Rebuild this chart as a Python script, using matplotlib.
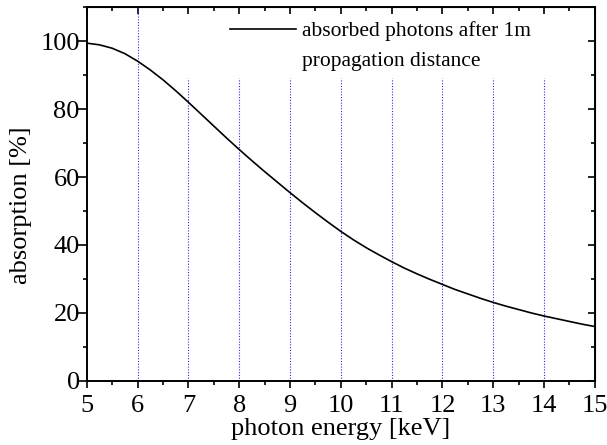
import numpy as np
import matplotlib
matplotlib.use("Agg")
import matplotlib.pyplot as plt
from matplotlib.ticker import MultipleLocator

plt.rcParams['font.family'] = ['Liberation Serif', 'DejaVu Serif']

# photon energy [keV] vs absorption [%]
energy = [5.0, 5.25, 5.5, 5.75, 6.0, 6.25, 6.5, 6.75, 7.0, 7.25, 7.5, 7.75,
          8.0, 8.25, 8.5, 8.75, 9.0, 9.25, 9.5, 9.75, 10.0, 10.25, 10.5, 10.75,
          11.0, 11.25, 11.5, 11.75, 12.0, 12.25, 12.5, 12.75, 13.0, 13.25,
          13.5, 13.75, 14.0, 14.25, 14.5, 14.75, 15.0]
absorption = [99.4, 98.9, 97.9, 96.3, 94.1, 91.5, 88.6, 85.4, 82.0, 78.5, 75.0, 71.5,
              68.1, 64.8, 61.6, 58.5, 55.4, 52.4, 49.5, 46.7, 44.0, 41.5, 39.2, 37.1,
              35.1, 33.2, 31.5, 29.9, 28.4, 26.9, 25.6, 24.3, 23.1, 22.0,
              21.0, 20.0, 19.1, 18.3, 17.5, 16.7, 16.0]

# dotted marker lines
full_line_x = [6]
short_lines_x = [7, 8, 9, 10, 11, 12, 13, 14]
short_line_top = 89

fig = plt.figure(figsize=(6.07, 4.45), dpi=100)
ax = fig.add_axes([0.143, 0.144, 0.837, 0.840])

for xv in full_line_x:
    ax.axvline(xv, color='#2a2af0', ls=(0, (1, 1.5)), lw=0.8, zorder=1)
ax.vlines(short_lines_x, 0, short_line_top, color='#2a2af0', ls=(0, (1, 1.5)), lw=0.8, zorder=1)

ax.plot(energy, absorption, color='black', lw=1.2, zorder=3,
        label='absorbed photons after 1m')
ax.plot([], [], color='none', label='propagation distance')

ax.set_xlim(5, 15)
ax.set_ylim(0, 110)
ax.xaxis.set_major_locator(MultipleLocator(1))
ax.xaxis.set_minor_locator(MultipleLocator(0.5))
ax.set_yticks([0, 20, 40, 60, 80, 100])
ax.yaxis.set_minor_locator(MultipleLocator(10))

ax.tick_params(which='both', direction='out', top=False, right=False, labelsize=19, width=1.2)
ax.tick_params(axis='x', which='major', length=5, pad=5)
ax.tick_params(axis='x', which='minor', length=3)
ax.tick_params(axis='y', which='major', length=7, pad=-2)
ax.tick_params(axis='y', which='minor', length=3)
for s in ax.spines.values():
    s.set_linewidth(1.4)

ax2 = ax.secondary_xaxis('top')
ax2.xaxis.set_major_locator(MultipleLocator(1))
ax2.xaxis.set_minor_locator(MultipleLocator(0.5))
ax2.tick_params(which='both', direction='in', labeltop=False, width=1.2)
ax2.tick_params(which='major', length=5)
ax2.tick_params(which='minor', length=3)
ay2 = ax.secondary_yaxis('right')
ay2.yaxis.set_major_locator(MultipleLocator(20))
ay2.yaxis.set_minor_locator(MultipleLocator(10))
ay2.tick_params(which='both', direction='in', labelright=False, width=1.2)
ay2.tick_params(which='major', length=5)
ay2.tick_params(which='minor', length=3)

ax.set_xlabel('photon energy [keV]', fontsize=19, labelpad=1)
ax.set_ylabel('absorption [%]', fontsize=19)
ax.yaxis.set_label_coords(-0.108, 0.47)

ax.legend(loc='upper left', bbox_to_anchor=(0.281, 0.962), frameon=False,
          fontsize=15.5, handlelength=3.1, borderaxespad=0, borderpad=0,
          handletextpad=0.28, labelspacing=0.42)

fig.savefig('out.png', dpi=100)
